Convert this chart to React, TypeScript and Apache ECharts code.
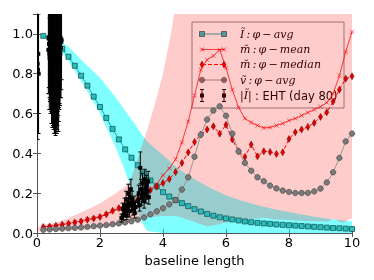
import React, { useEffect, useRef } from "react";
import * as echarts from "echarts";

// baseline grid for the model curves
const xs = [0.2, 0.4, 0.6, 0.8, 1.0, 1.2, 1.4, 1.6, 1.8, 2.0, 2.2, 2.4, 2.6, 2.8, 3.0, 3.2, 3.4, 3.6, 3.8, 4.0,
  4.2, 4.4, 4.6, 4.8, 5.0, 5.2, 5.4, 5.6, 5.8, 6.0, 6.2, 6.4, 6.6, 6.8, 7.0, 7.2, 7.4, 7.6, 7.8, 8.0,
  8.2, 8.4, 8.6, 8.8, 9.0, 9.2, 9.4, 9.6, 9.8, 10.0];

const iAvg = [0.99, 0.98, 0.955, 0.925, 0.885, 0.84, 0.79, 0.74, 0.685, 0.633, 0.578, 0.523, 0.47, 0.42, 0.378, 0.34, 0.299, 0.264, 0.234, 0.205,
  0.183, 0.165, 0.15, 0.135, 0.12, 0.108, 0.096, 0.087, 0.079, 0.073, 0.068, 0.063, 0.058, 0.054, 0.051, 0.048, 0.046, 0.043, 0.041, 0.039,
  0.037, 0.035, 0.033, 0.031, 0.029, 0.027, 0.025, 0.024, 0.022, 0.02];

const mMean = [0.032, 0.034, 0.038, 0.043, 0.048, 0.054, 0.06, 0.068, 0.075, 0.083, 0.095, 0.108, 0.122, 0.135, 0.152, 0.17, 0.19, 0.215, 0.245, 0.29,
  0.325, 0.37, 0.455, 0.56, 0.69, 0.82, 0.87, 0.89, 0.92, 0.83, 0.72, 0.63, 0.575, 0.555, 0.54, 0.528, 0.53, 0.54, 0.55, 0.565,
  0.575, 0.59, 0.605, 0.62, 0.635, 0.655, 0.70, 0.79, 0.91, 1.01];

const mMedian = [0.03, 0.033, 0.037, 0.042, 0.047, 0.053, 0.058, 0.067, 0.073, 0.08, 0.094, 0.112, 0.125, 0.14, 0.155, 0.17, 0.19, 0.215, 0.233, 0.251,
  0.271, 0.306, 0.352, 0.405, 0.457, 0.494, 0.52, 0.536, 0.499, 0.544, 0.47, 0.41, 0.382, 0.444, 0.385, 0.41, 0.407, 0.397, 0.405, 0.472,
  0.506, 0.52, 0.533, 0.553, 0.583, 0.606, 0.66, 0.72, 0.775, 0.787];

const vAvg = [0.016, 0.018, 0.02, 0.022, 0.024, 0.026, 0.028, 0.031, 0.034, 0.037, 0.04, 0.044, 0.048, 0.053, 0.059, 0.067, 0.078, 0.094, 0.109, 0.124,
  0.144, 0.166, 0.218, 0.28, 0.383, 0.494, 0.57, 0.615, 0.636, 0.589, 0.499, 0.41, 0.352, 0.313, 0.28, 0.26, 0.238, 0.224, 0.213, 0.206,
  0.201, 0.201, 0.201, 0.209, 0.223, 0.254, 0.305, 0.377, 0.46, 0.499];

// shaded ranges
const cyanX = [0.2, 0.4, 0.6, 0.8, 1.0, 1.5, 2.0, 2.5, 2.75, 3.0, 3.1, 3.3, 3.5, 4.0, 4.5, 5.0, 5.5, 6.0, 6.5, 7.0, 7.5, 8.0, 8.5, 9.0, 9.5, 10];
const cyanHi = [1.0, 0.99, 0.975, 0.955, 0.935, 0.855, 0.78, 0.68, 0.625, 0.57, 0.55, 0.5, 0.46, 0.39, 0.32, 0.27, 0.226, 0.19, 0.162, 0.14, 0.12, 0.105, 0.09, 0.077, 0.066, 0.058];
const cyanLo = [0.985, 0.97, 0.94, 0.905, 0.865, 0.74, 0.6, 0.43, 0.33, 0.22, 0.16, 0.06, 0.01, 0, 0, 0, 0, 0, 0, 0, 0, 0, 0, 0, 0, 0];

const pinkX = [0, 0.5, 1, 1.5, 2, 2.5, 2.86, 3.0, 3.25, 3.5, 3.75, 4.0, 4.25, 4.5, 5.0, 5.4, 5.8, 6.2, 6.6, 7.2, 7.6, 8.0, 8.5, 9.0, 9.25, 9.4, 9.7, 10];
const pinkHi = [0.03, 0.045, 0.075, 0.11, 0.15, 0.2, 0.24, 0.28, 0.4, 0.52, 0.65, 0.8, 1.0, 1.25, 1.6, 1.6, 1.6, 1.6, 1.6, 1.6, 1.6, 1.6, 1.6, 1.6, 1.6, 1.6, 1.6, 1.6];
const pinkLo = [0.008, 0.01, 0.012, 0.018, 0.025, 0.035, 0.045, 0.055, 0.066, 0.078, 0.082, 0.085, 0.085, 0.083, 0.055, 0.033, 0.045, 0.06, 0.067, 0.077, 0.068, 0.065, 0.06, 0.058, 0.058, 0.072, 0.05, 0.075];

// EHT (day 80) visibility amplitudes: baseline, value, error
const ehtX = [0.02, 0.03, 0.04, 0.05,
  0.36, 0.37, 0.38, 0.39, 0.40, 0.41, 0.42, 0.43, 0.44, 0.45, 0.46, 0.47, 0.48, 0.49, 0.50, 0.51, 0.52, 0.53, 0.54, 0.55,
  0.56, 0.57, 0.58, 0.59, 0.60, 0.61, 0.62, 0.63, 0.64, 0.65, 0.66, 0.67, 0.68, 0.69, 0.70, 0.71, 0.72, 0.73, 0.74, 0.75,
  0.76, 0.77, 0.78,
  2.68, 2.72, 2.75, 2.78, 2.80, 2.83, 2.85, 2.87, 2.90, 2.92, 2.94, 2.96, 2.98, 3.00, 3.02, 3.05, 3.08, 3.10, 3.13,
  3.20, 3.23, 3.26, 3.28, 3.30, 3.32, 3.35, 3.37, 3.40, 3.42, 3.44, 3.46, 3.48, 3.50, 3.53, 3.55];
const ehtY = [0.85, 0.82, 0.9, 0.8,
  0.92, 0.98, 0.95, 0.90, 0.88, 0.96, 0.97, 0.86, 0.90, 0.94, 0.85, 0.91, 0.93, 0.87, 0.88, 0.96, 0.95, 0.89, 0.90, 0.84,
  0.86, 0.93, 0.92, 0.88, 0.89, 0.97, 0.94, 0.86, 0.87, 0.92, 0.91, 0.95, 0.93, 0.89, 0.88, 0.96, 0.95, 0.91, 0.90, 0.98,
  0.93, 0.96, 0.97,
  0.075, 0.12, 0.09, 0.14, 0.11, 0.17, 0.087, 0.13, 0.2, 0.15, 0.11, 0.18, 0.22, 0.14, 0.17, 0.12, 0.15, 0.1, 0.13,
  0.16, 0.2, 0.14, 0.327, 0.22, 0.18, 0.25, 0.2, 0.16, 0.27, 0.22, 0.19, 0.24, 0.21, 0.26, 0.18];
const ehtErr = [0.38, 0.32, 0.3, 0.3,
  0.22, 0.25, 0.25, 0.28, 0.2, 0.3, 0.3, 0.26, 0.28, 0.33, 0.3, 0.36, 0.38, 0.34, 0.35, 0.42, 0.4, 0.37, 0.33, 0.34,
  0.36, 0.4, 0.42, 0.39, 0.38, 0.45, 0.4, 0.36, 0.35, 0.38, 0.3, 0.36, 0.42, 0.33, 0.25, 0.34, 0.3, 0.27, 0.22, 0.3,
  0.25, 0.24, 0.2,
  0.02, 0.03, 0.025, 0.035, 0.03, 0.04, 0.02, 0.035, 0.045, 0.04, 0.03, 0.04, 0.05, 0.035, 0.04, 0.03, 0.035, 0.025, 0.03,
  0.03, 0.04, 0.03, 0.08, 0.05, 0.04, 0.05, 0.045, 0.035, 0.05, 0.045, 0.04, 0.05, 0.04, 0.05, 0.035];

const xTicks = [0, 2, 4, 6, 8, 10];
const yTicks = [0.0, 0.2, 0.4, 0.6, 0.8, 1.0];

const legendLabels = [
  "Ĩ\u2009:\u2009φ\u2009−\u2009avg",
  "m̆\u2009:\u2009φ\u2009−\u2009mean",
  "m̆\u2009:\u2009φ\u2009−\u2009median",
  "ṽ\u2009:\u2009φ\u2009−\u2009avg",
];
const ehtLabelMath = "|Ĩ|";
const ehtLabelText = ": EHT (day 80)";

const CYAN_LINE = "#1fa9a9";
const CYAN_FILL = "#2bbcbc";
const CYAN_EDGE = "#0b4a4a";
const RED = "#ff0000";
const GRAY_FILL = "#7a7a7a";
const GRAY_EDGE = "#3c3c3c";
const GRAY_LINE = "#969696";

function band(xa: number[], hi: number[], lo: number[], fill: string, z: number) {
  return {
    type: "custom",
    coordinateSystem: "cartesian2d",
    clip: true,
    silent: true,
    z,
    data: [[xa[0], lo[0]]],
    encode: { x: 0, y: 1 },
    renderItem: (_p: any, api: any) => {
      const pts: number[][] = [];
      for (let i = 0; i < xa.length; i++) pts.push(api.coord([xa[i], hi[i]]));
      for (let i = xa.length - 1; i >= 0; i--) pts.push(api.coord([xa[i], lo[i]]));
      return { type: "polygon", shape: { points: pts }, style: { fill } };
    },
  };
}

export default function App() {
  const ref = useRef<HTMLDivElement>(null);
  useEffect(() => {
    if (!ref.current) return;
    const chart = echarts.init(ref.current, null, { renderer: "svg" });
    const font = "DejaVu Sans";
    const axisColor = "#555";
    const lx1 = 202, lx2 = 224, ltx = 240;
    const rows = [34, 49.5, 64.5, 80, 95.5];
    const mathFont = "italic 11px 'DejaVu Serif'";
    const legendChildren: any[] = [];
    legendChildren.push({
      type: "rect", shape: { x: 192, y: 22, width: 152, height: 86 },
      style: { fill: "rgba(255,255,255,0.5)", stroke: "#8a8a8a", lineWidth: 1 },
    });
    legendChildren.push({ type: "line", shape: { x1: lx1, y1: rows[0], x2: lx2, y2: rows[0] }, style: { stroke: CYAN_LINE, lineWidth: 1 } });
    [lx1, lx2].forEach((x) => legendChildren.push({ type: "rect", shape: { x: x - 2.5, y: rows[0] - 2.5, width: 5, height: 5 }, style: { fill: CYAN_FILL, stroke: CYAN_EDGE, lineWidth: 0.7 } }));
    legendChildren.push({ type: "line", shape: { x1: lx1, y1: rows[1], x2: lx2, y2: rows[1] }, style: { stroke: "rgba(255,0,0,0.75)", lineWidth: 1 } });
    [lx1, lx2].forEach((x) => {
      legendChildren.push({ type: "line", shape: { x1: x - 2, y1: rows[1] - 2, x2: x + 2, y2: rows[1] + 2 }, style: { stroke: RED, lineWidth: 0.8 } });
      legendChildren.push({ type: "line", shape: { x1: x - 2, y1: rows[1] + 2, x2: x + 2, y2: rows[1] - 2 }, style: { stroke: RED, lineWidth: 0.8 } });
    });
    legendChildren.push({ type: "line", shape: { x1: lx1, y1: rows[2], x2: lx2, y2: rows[2] }, style: { stroke: RED, lineWidth: 1, lineDash: [4, 2] } });
    [lx1, lx2].forEach((x) => legendChildren.push({ type: "polygon", shape: { points: [[x, rows[2] - 3.5], [x + 2, rows[2]], [x, rows[2] + 3.5], [x - 2, rows[2]]] }, style: { fill: "#e00000", stroke: "#700000", lineWidth: 0.5 } }));
    legendChildren.push({ type: "line", shape: { x1: lx1, y1: rows[3], x2: lx2, y2: rows[3] }, style: { stroke: GRAY_LINE, lineWidth: 1 } });
    [lx1, lx2].forEach((x) => legendChildren.push({ type: "circle", shape: { cx: x, cy: rows[3], r: 2.7 }, style: { fill: GRAY_FILL, stroke: GRAY_EDGE, lineWidth: 0.6 } }));
    [lx1, lx2].forEach((x) => {
      legendChildren.push({ type: "line", shape: { x1: x, y1: rows[4] - 6, x2: x, y2: rows[4] + 6 }, style: { stroke: "#000", lineWidth: 1 } });
      legendChildren.push({ type: "line", shape: { x1: x - 2, y1: rows[4] - 6, x2: x + 2, y2: rows[4] - 6 }, style: { stroke: "#000", lineWidth: 1 } });
      legendChildren.push({ type: "line", shape: { x1: x - 2, y1: rows[4] + 6, x2: x + 2, y2: rows[4] + 6 }, style: { stroke: "#000", lineWidth: 1 } });
      legendChildren.push({ type: "rect", shape: { x: x - 2, y: rows[4] - 2, width: 4, height: 4 }, style: { fill: "#000" } });
    });
    legendLabels.forEach((t, i) => legendChildren.push({
      type: "text", x: ltx, y: rows[i],
      style: { text: t, fill: "#000", font: mathFont, verticalAlign: "middle", align: "left" },
    }));
    legendChildren.push({ type: "text", x: ltx, y: rows[4], style: { text: ehtLabelMath, fill: "#000", font: mathFont, verticalAlign: "middle", align: "left" } });
    legendChildren.push({ type: "text", x: ltx + 15, y: rows[4], style: { text: ehtLabelText, fill: "#000", font: "11.5px 'DejaVu Sans'", verticalAlign: "middle", align: "left" } });

    const tickStyle = { show: true, inside: true, length: 4, lineStyle: { color: axisColor, width: 1 } };
    const axisLine = { show: true, lineStyle: { color: axisColor, width: 1 } };

    chart.setOption({
      animation: false,
      grid: { left: 37, right: 22, top: 14, bottom: 47, containLabel: false },
      xAxis: [
        {
          type: "value", min: 0, max: 10, interval: 2,
          name: "baseline length", nameLocation: "middle", nameGap: 17,
          nameTextStyle: { fontFamily: font, fontSize: 13, color: "#000" },
          axisLine, axisTick: tickStyle, splitLine: { show: false },
          axisLabel: { fontFamily: font, fontSize: 13, color: "#000", margin: 3, formatter: (v: number) => (xTicks.includes(v) ? String(v) : "") },
        },
        {
          type: "value", position: "top", min: 0, max: 10, interval: 2,
          axisLine, axisTick: tickStyle, splitLine: { show: false }, axisLabel: { show: false },
        },
      ],
      yAxis: [
        {
          type: "value", min: 0, max: 1.1, interval: 0.2,
          axisLine, axisTick: tickStyle, splitLine: { show: false },
          axisLabel: {
            fontFamily: font, fontSize: 13, color: "#000", margin: 4, showMaxLabel: false,
            formatter: (v: number) => { const m = yTicks.find((t) => Math.abs(t - v) < 1e-6); return m === undefined ? "" : m.toFixed(1); },
          },
        },
        {
          type: "value", position: "right", min: 0, max: 1.1, interval: 0.2,
          axisLine, axisTick: tickStyle, splitLine: { show: false }, axisLabel: { show: false },
        },
      ],
      series: [
        band(cyanX, cyanHi, cyanLo, "rgba(0,255,255,0.5)", 1),
        band(pinkX, pinkHi, pinkLo, "rgba(255,0,0,0.2)", 2),
        {
          type: "line", name: "I avg", z: 3, data: xs.map((x, i) => [x, iAvg[i]]),
          symbol: "rect", symbolSize: 5,
          itemStyle: { color: CYAN_FILL, borderColor: CYAN_EDGE, borderWidth: 0.7 },
          lineStyle: { color: CYAN_LINE, width: 1 },
        },
        {
          type: "line", name: "m mean", z: 4, data: xs.map((x, i) => [x, mMean[i]]),
          symbol: "path://M0,0L10,10M10,0L0,10", symbolSize: 4,
          itemStyle: { color: "none", borderColor: "rgba(255,0,0,0.8)", borderWidth: 0.8 },
          lineStyle: { color: "rgba(255,0,0,0.75)", width: 1 },
        },
        {
          type: "line", name: "m median", z: 5, data: xs.map((x, i) => [x, mMedian[i]]),
          symbol: "diamond", symbolSize: [4, 7],
          itemStyle: { color: "#e00000", borderColor: "#700000", borderWidth: 0.5 },
          lineStyle: { color: RED, width: 1, type: [4, 2] },
        },
        {
          type: "line", name: "v avg", z: 6, data: xs.map((x, i) => [x, vAvg[i]]),
          symbol: "circle", symbolSize: 5.5,
          itemStyle: { color: GRAY_FILL, borderColor: GRAY_EDGE, borderWidth: 0.6 },
          lineStyle: { color: GRAY_LINE, width: 1 },
        },
        {
          type: "custom", name: "EHT", z: 7, clip: true,
          coordinateSystem: "cartesian2d",
          data: ehtX.map((x, i) => [x, ehtY[i], ehtErr[i]]),
          encode: { x: 0, y: 1 },
          renderItem: (_p: any, api: any) => {
            const x = api.value(0), y = api.value(1), e = api.value(2);
            const c = api.coord([x, y]);
            const t = api.coord([x, y + e]);
            const b = api.coord([x, y - e]);
            const st = { stroke: "#000", lineWidth: 1 };
            return {
              type: "group",
              children: [
                { type: "line", shape: { x1: c[0], y1: t[1], x2: c[0], y2: b[1] }, style: st },
                { type: "line", shape: { x1: c[0] - 2, y1: t[1], x2: c[0] + 2, y2: t[1] }, style: st },
                { type: "line", shape: { x1: c[0] - 2, y1: b[1], x2: c[0] + 2, y2: b[1] }, style: st },
                { type: "rect", shape: { x: c[0] - 2, y: c[1] - 2, width: 4, height: 4 }, style: { fill: "#000" } },
              ],
            };
          },
        },
      ],
      graphic: [{ type: "group", z: 100, children: legendChildren }],
    });
    return () => chart.dispose();
  }, []);
  return <div ref={ref} style={{ position: "fixed", left: 0, top: 0, width: 374, height: 280 }} />;
}
